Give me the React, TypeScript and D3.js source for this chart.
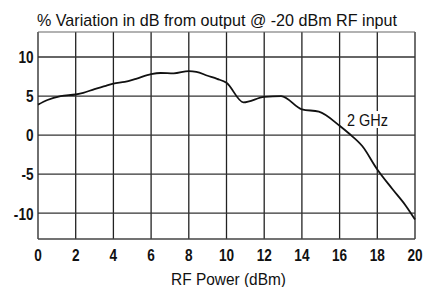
import React from "react";
import * as d3 from "d3";

const rfPower = [0, 0.5, 1.2, 2.0, 2.4, 3.0, 3.6, 4.0, 4.6, 5.2, 6.0, 6.5, 7.2, 8.0, 8.4, 9.0, 9.5, 10.0, 10.9, 12.0, 12.9, 14.0, 14.9, 16.0, 16.5, 17.2, 18.0, 18.8, 19.5, 20];
const variation = [3.9, 4.5, 5.0, 5.2, 5.4, 5.9, 6.3, 6.6, 6.8, 7.2, 7.8, 7.95, 7.9, 8.2, 8.1, 7.6, 7.2, 6.7, 4.2, 4.9, 5.0, 3.3, 3.0, 1.2, 0.2, -1.4, -4.4, -6.9, -9.0, -10.8];
const xTicks = [0, 2, 4, 6, 8, 10, 12, 14, 16, 18, 20];
const yTicks = [-10, -5, 0, 5, 10];
const title = "% Variation in dB from output @ -20 dBm RF input";
const xLabel = "RF Power (dBm)";
const seriesLabel = "2 GHz";

const FONT = "'Liberation Sans', Arial, sans-serif";

export default function App() {
  const W = 426, H = 287;
  const left = 38, right = 415, top = 32, bottom = 239;
  const x = d3.scaleLinear().domain([0, 20]).range([left, right]);
  const y = d3.scaleLinear().domain([-13.3, 13.2]).range([bottom, top]);
  const pts = rfPower.map((v, i) => [v, variation[i]] as [number, number]);
  const line = d3.line<[number, number]>().x(d => x(d[0])).y(d => y(d[1])).curve(d3.curveMonotoneX);
  const sx = 0.8;
  return (
    <svg width={W} height={H} style={{ position: "absolute", left: 0, top: 0, background: "#fff" }}>
      <rect x={0} y={0} width={W} height={H} fill="#fff" />
      <text x={37} y={26} textLength={360} lengthAdjust="spacingAndGlyphs" fontFamily={FONT} fontSize={17} fill="#111">{title}</text>
      {xTicks.map(t => (
        <line key={"gx" + t} x1={x(t)} x2={x(t)} y1={top} y2={bottom} stroke="#222" strokeWidth={1.3} />
      ))}
      {yTicks.map(t => (
        <line key={"gy" + t} x1={left} x2={right} y1={y(t)} y2={y(t)} stroke="#333" strokeWidth={1.3} />
      ))}
      <line x1={left} x2={right} y1={top} y2={top} stroke="#666" strokeWidth={1.2} />
      <line x1={left} x2={right} y1={bottom} y2={bottom} stroke="#444" strokeWidth={1.3} />
      <path d={line(pts) || ""} fill="none" stroke="#111" strokeWidth={1.8} />
      <rect x={344} y={111} width={47} height={17} fill="#fff" />
      <text x={347} y={126} textLength={41} lengthAdjust="spacingAndGlyphs" fontFamily={FONT} fontSize={17} fill="#111">{seriesLabel}</text>
      {xTicks.map(t => (
        <text key={"tx" + t} transform={`translate(${x(t)},261) scale(${sx},1)`} textAnchor="middle" fontFamily={FONT} fontSize={17} fontWeight="bold" fill="#111">{t}</text>
      ))}
      {yTicks.map(t => (
        <text key={"ty" + t} transform={`translate(33.5,${y(t) + 6.3}) scale(${sx},1)`} textAnchor="end" fontFamily={FONT} fontSize={17} fontWeight="bold" fill="#111">{t}</text>
      ))}
      <text x={171} y={284.5} textLength={115} lengthAdjust="spacingAndGlyphs" fontFamily={FONT} fontSize={16.5} fill="#111">{xLabel}</text>
    </svg>
  );
}
